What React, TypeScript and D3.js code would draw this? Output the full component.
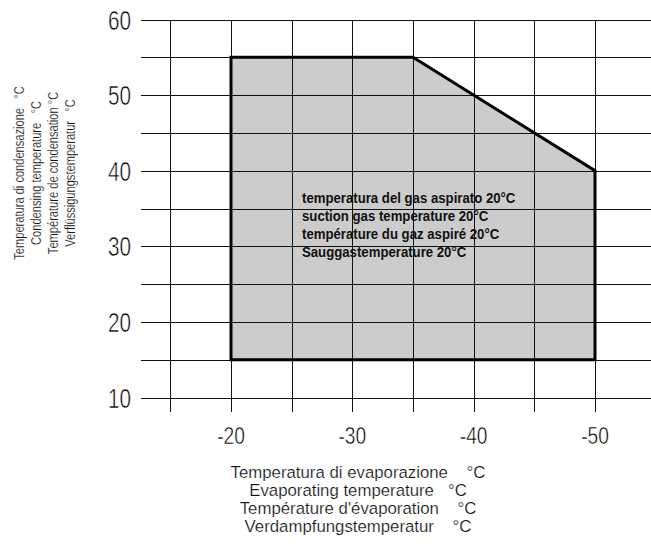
import React from "react";
import * as d3 from "d3";

// operating envelope (evaporating temp °C, condensing temp °C)
const evapTemps = [-20, -35, -50, -50, -20];
const condTemps = [55, 55, 40, 15, 15];

const xGridValues = [-15, -20, -25, -30, -35, -40, -45, -50];
const yGridValues = [10, 15, 20, 25, 30, 35, 40, 45, 50, 55, 60];
const xTickLabels = [-20, -30, -40, -50];
const yTickLabels = [10, 20, 30, 40, 50, 60];

const yTitleLines = [
  "Temperatura di condensazione   °C",
  "Condensing temperature   °C",
  "Température de condensation °C",
  "Verflüssigungstemperatur   °C",
];
const xTitleLines = [
  "Temperatura di evaporazione    °C",
  "Evaporating temperature   °C",
  "Température d'évaporation    °C",
  "Verdampfungstemperatur    °C",
];
const noteLines = [
  "temperatura del gas aspirato 20°C",
  "suction gas temperature 20°C",
  "température du gaz aspiré 20°C",
  "Sauggastemperature 20°C",
];

const W = 651;
const H = 551;
const FONT = "'Liberation Sans', Arial, sans-serif";

// narrow text: the original uses a thin condensed face, so squeeze horizontally
function NText(props: {
  x: number;
  y: number;
  sx: number;
  size: number;
  anchor?: string;
  bold?: boolean;
  thin?: number;
  fill?: string;
  children: React.ReactNode;
}) {
  return (
    <g transform={`translate(${props.x},${props.y}) scale(${props.sx},1)`}>
      <text
        x={0}
        y={0}
        textAnchor={props.anchor || "start"}
        fontFamily={FONT}
        fontWeight={props.bold ? "bold" : "normal"}
        fontSize={props.size}
        fill={props.fill || "#222"}
        stroke={props.thin ? "#fff" : "none"}
        strokeWidth={props.thin || 0}
        style={{ whiteSpace: "pre", paintOrder: "fill" }}
      >
        {props.children}
      </text>
    </g>
  );
}

export default function App() {
  const x = d3.scaleLinear().domain([-20, -50]).range([231, 595]);
  const y = d3.scaleLinear().domain([10, 60]).range([397.5, 19.5]);

  const pts: [number, number][] = evapTemps.map((e, i) => [x(e), y(condTemps[i])]);
  const envelope = d3.line()(pts) + "Z";

  return (
    <svg
      width={W}
      height={H}
      style={{ position: "absolute", left: 0, top: 0, background: "#fff" }}
    >
      <path d={envelope} fill="#cccccc" stroke="none" />

      {noteLines.map((t, i) => (
        <NText key={t} x={302} y={203 + i * 18} sx={0.88} size={15} bold fill="#111">
          {t}
        </NText>
      ))}

      <g stroke="#111" strokeWidth={1} shapeRendering="crispEdges">
        {yGridValues.map((v) => (
          <line key={"h" + v} x1={141} x2={W} y1={Math.round(y(v)) + 0.5} y2={Math.round(y(v)) + 0.5} />
        ))}
        {xGridValues.map((v) => (
          <line key={"v" + v} x1={Math.round(x(v)) + 0.5} x2={Math.round(x(v)) + 0.5} y1={y(60)} y2={412} />
        ))}
      </g>

      <path d={envelope} fill="none" stroke="#000" strokeWidth={3} strokeLinejoin="miter" />

      {yTickLabels.map((v) => (
        <NText key={"yl" + v} x={131} y={y(v) + 10} sx={0.74} size={28} anchor="end" thin={0.6} fill="#000">
          {v}
        </NText>
      ))}
      {xTickLabels.map((v) => (
        <NText key={"xl" + v} x={x(v)} y={444} sx={0.8} size={24} anchor="middle" thin={0.5} fill="#000">
          {v}
        </NText>
      ))}

      <g transform="translate(0,173) rotate(-90)">
        {yTitleLines.map((t, i) => (
          <NText key={t} x={0} y={24 + i * 17} sx={0.74} size={15} anchor="middle" thin={0.2} fill="#111">
            {t}
          </NText>
        ))}
      </g>

      {xTitleLines.map((t, i) => (
        <NText key={t} x={358} y={478 + i * 18} sx={1.05} size={16} anchor="middle" thin={0.2} fill="#111">
          {t}
        </NText>
      ))}
    </svg>
  );
}
